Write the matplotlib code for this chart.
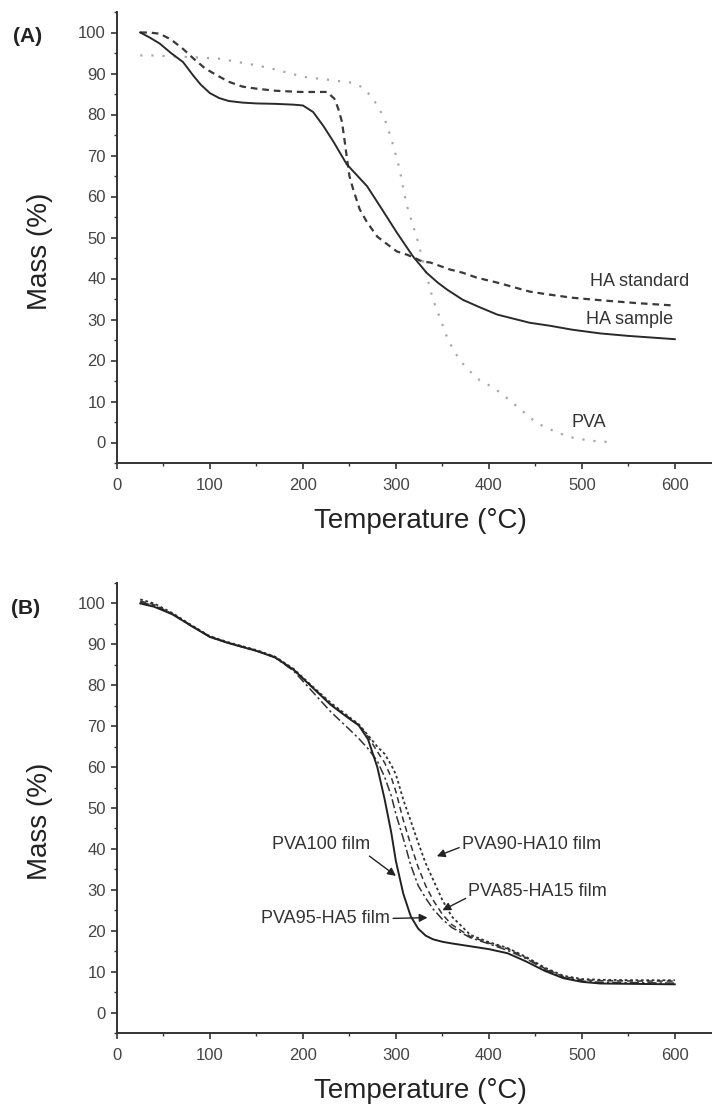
import matplotlib
matplotlib.use("Agg")
import matplotlib.pyplot as plt
from matplotlib.ticker import MultipleLocator

plt.rcParams['font.family'] = ['Liberation Sans', 'DejaVu Sans']

# ---------------- Panel A data ----------------
ha_sample_t = [25, 35, 46, 58, 71, 82, 90, 100, 110, 120, 135, 150, 170, 190, 200, 211, 222, 233,
               247, 258, 269, 283, 301, 318, 333, 345, 355, 372, 390, 409, 430, 444, 465, 490,
               520, 550, 575, 600]
ha_sample_m = [100, 98.8, 97.3, 95, 92.8, 89.5, 87.3, 85.2, 84, 83.3, 82.9, 82.7, 82.6, 82.4, 82.2,
               80.6, 77.2, 73.3, 67.9, 65.2, 62.5, 57.6, 51.2, 45.5, 41.4, 39, 37.3, 34.8, 33,
               31.2, 30, 29.2, 28.5, 27.5, 26.6, 26, 25.6, 25.2]

ha_std_t = [25, 35, 46, 58, 71, 83, 95, 108, 120, 135, 150, 170, 197, 226, 234, 238, 242, 245, 247,
            250, 254, 261, 269, 280, 291, 301, 312, 329, 337, 358, 372, 387, 409, 444, 461, 490,
            520, 559, 600]
ha_std_m = [100, 100, 99.7, 98.3, 96, 93.5, 91.2, 89.5, 88, 86.8, 86.3, 85.8, 85.5, 85.5, 83.8,
            81.4, 78.2, 73.3, 69.9, 65, 61.8, 56.9, 53.7, 50.2, 48.3, 46.6, 45.8, 44.1, 43.9,
            42.2, 41.4, 40.2, 39, 36.8, 36.2, 35.3, 34.7, 34, 33.4]

pva_t = [25, 40, 55, 80, 110, 130, 150, 170, 200, 230, 254, 265, 275, 283, 290, 296, 304, 308, 312,
         318, 324, 330, 337, 340, 347, 355, 362, 369, 376, 390, 404, 415, 426, 437, 448, 458, 469,
         480, 490, 505, 520, 530]
pva_m = [94.4, 94.4, 94.2, 94, 93.6, 92.8, 92, 91, 89.2, 88.4, 87.7, 86.5, 84, 81, 77.7, 73.3, 66.7,
         61.8, 57.6, 53.2, 48.8, 43.5, 37.3, 34.8, 30.6, 25.7, 22.5, 20.1, 18.1, 15.2, 13.5, 11.7,
         9.6, 7.5, 5.4, 4.0, 2.9, 1.9, 1.2, 0.6, 0.2, 0.1]

# ---------------- Panel B data ----------------
film_t = [25, 40, 60, 80, 100, 120, 150, 170, 190, 210, 230, 250, 260, 270, 280, 288, 295, 300,
          308, 316, 324, 332, 340, 350, 360, 380, 400, 420, 440, 460, 480, 500, 520, 560, 600]
pva100_m = [100, 99.2, 97.3, 94.5, 91.8, 90.3, 88.4, 86.8, 83.8, 79.5, 75.2, 71.8, 70.2, 66.8, 60,
            52, 44, 37, 29, 23.5, 20.5, 18.8, 17.9, 17.3, 16.9, 16.2, 15.5, 14.5, 12.5, 10.2, 8.4,
            7.5, 7.1, 7.0, 6.9]
pva95_m = [100.3, 99.5, 97.3, 94.5, 91.8, 90.3, 88.4, 86.8, 83.5, 78.5, 73.5, 69.2, 67.0, 64.5,
           61.5, 57.5, 53, 48.5, 42.5, 36, 31, 28, 25.3, 22.8, 20.8, 18.3, 16.8, 15.2, 13.2, 10.6,
           8.6, 7.7, 7.4, 7.3, 7.2]
pva90_m = [101, 100, 97.6, 94.7, 92, 90.5, 88.6, 87, 84, 79.8, 75.7, 72.2, 70.5, 67.8, 65, 63.2,
           60.5, 58.2, 52, 46.8, 41.5, 36.5, 32.5, 27.5, 23.5, 19, 17.2, 15.8, 13.6, 11, 9, 8.2,
           8.0, 7.9, 7.9]
pva85_m = [100.6, 99.7, 97.4, 94.6, 91.9, 90.4, 88.5, 86.9, 83.8, 79.6, 75.4, 72, 70.3, 67.5, 63.8,
           61, 57.5, 54, 47, 41, 35.5, 31, 27.5, 24, 21.5, 18.6, 17, 15.6, 13.4, 10.8, 8.8, 8,
           7.8, 7.7, 7.7]

x_ticks = [0, 100, 200, 300, 400, 500, 600]
y_ticks = [0, 10, 20, 30, 40, 50, 60, 70, 80, 90, 100]

W, H = 712, 1106
fig = plt.figure(figsize=(W / 100, H / 100), dpi=100)


def ax_rect(left, top, right, bottom):
    return [left / W, 1 - bottom / H, (right - left) / W, (bottom - top) / H]


def style_axes(ax):
    ax.set_xlim(0, 640)
    ax.set_ylim(-5, 105)
    for s in ['top', 'right']:
        ax.spines[s].set_visible(False)
    for s in ['left', 'bottom']:
        ax.spines[s].set_linewidth(1.4)
        ax.spines[s].set_color('#333333')
    ax.set_xticks(x_ticks)
    ax.set_yticks(y_ticks)
    ax.xaxis.set_minor_locator(MultipleLocator(50))
    ax.yaxis.set_minor_locator(MultipleLocator(5))
    ax.tick_params(axis='both', which='major', direction='out', length=4, width=1.2,
                   colors='#333333', labelsize=12, labelcolor='#444444')
    ax.tick_params(axis='both', which='minor', direction='out', length=2.5, width=1.0,
                   colors='#333333')
    ax.tick_params(axis='x', which='major', pad=7)
    ax.tick_params(axis='y', which='major', pad=4)
    ax.set_xlabel('Temperature (\u00b0C)', fontsize=20, color='#222222')
    ax.set_ylabel('Mass (%)', fontsize=20, color='#222222')
    ax.xaxis.set_label_coords(0.51, -0.1)
    ax.yaxis.set_label_coords(-0.108, 0.47)


# ---------------- Panel A ----------------
axA = fig.add_axes(ax_rect(117, 12, 712, 463))
style_axes(axA)
axA.plot(pva_t, pva_m, color='#a8a8a8', lw=1.6, linestyle=(0, (1, 4)))
axA.plot(ha_std_t, ha_std_m, color='#3a3a3a', lw=1.6, linestyle=(0, (3, 2.2)))
axA.plot(ha_sample_t, ha_sample_m, color='#2a2a2a', lw=1.4)
axA.text(616, 39.2, 'HA standard', ha='right', va='center', fontsize=13, color='#333333')
axA.text(598, 29.9, 'HA sample', ha='right', va='center', fontsize=13, color='#333333')
axA.text(507, 4.9, 'PVA', ha='center', va='center', fontsize=13, color='#333333')
fig.text(28 / W, 1 - 37 / H, '(A)', ha='center', va='center', fontsize=15,
         fontweight='bold', color='#222222')

# ---------------- Panel B ----------------
axB = fig.add_axes(ax_rect(117, 583, 712, 1033))
style_axes(axB)
axB.plot(film_t, pva90_m, color='#333333', lw=1.3, linestyle=(0, (1.5, 1.5)))
axB.plot(film_t, pva85_m, color='#333333', lw=1.1, linestyle=(0, (4, 2.5)))
axB.plot(film_t, pva95_m, color='#333333', lw=1.1, linestyle=(0, (6, 2, 1.5, 2)))
axB.plot(film_t, pva100_m, color='#222222', lw=1.4)
axB.xaxis.set_label_coords(0.51, -0.1)

arrow = dict(arrowstyle='-|>', color='#222222', lw=1.0, mutation_scale=12,
             shrinkA=0, shrinkB=0)
axB.annotate('PVA100 film', xy=(300, 33.4), xytext=(220, 41), ha='center', va='center',
             fontsize=13, color='#333333',
             arrowprops=dict(arrow, relpos=(0.95, 0.0)))
axB.annotate('PVA90-HA10 film', xy=(344, 38.2), xytext=(371, 41.2), ha='left', va='center',
             fontsize=13, color='#333333',
             arrowprops=dict(arrow, relpos=(0.0, 0.35)))
axB.annotate('PVA85-HA15 film', xy=(350, 25), xytext=(378, 29.5), ha='left', va='center',
             fontsize=13, color='#333333',
             arrowprops=dict(arrow, relpos=(0.0, 0.2)))
axB.annotate('PVA95-HA5 film', xy=(334, 23.2), xytext=(294, 23), ha='right', va='center',
             fontsize=13, color='#333333',
             arrowprops=dict(arrow, relpos=(1.0, 0.5)))
fig.text(26 / W, 1 - 609 / H, '(B)', ha='center', va='center', fontsize=15,
         fontweight='bold', color='#222222')

fig.savefig('out.png', dpi=100)
